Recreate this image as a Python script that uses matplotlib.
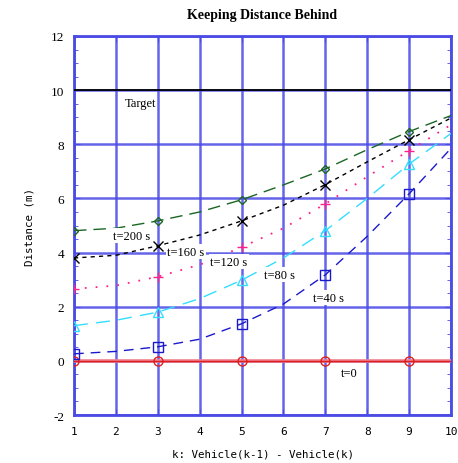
import numpy as np
import matplotlib.pyplot as plt
from matplotlib.ticker import MultipleLocator

plt.rcParams['axes.unicode_minus'] = False

# vehicle index k and the curve values read at each k
k = [1, 2, 3, 4, 5, 6, 7, 8, 9, 10]
t0 = [0, 0, 0, 0, 0, 0, 0, 0, 0, 0]
t40 = [0.26, 0.35, 0.52, 0.8, 1.37, 2.1, 3.18, 4.6, 6.17, 7.85]
t80 = [1.3, 1.5, 1.8, 2.3, 2.98, 3.8, 4.81, 6.0, 7.27, 8.4]
t120 = [2.66, 2.78, 3.11, 3.55, 4.2, 4.9, 5.8, 6.8, 7.77, 8.72]
t160 = [3.8, 3.9, 4.25, 4.65, 5.17, 5.75, 6.51, 7.35, 8.17, 8.97]
t200 = [4.81, 4.9, 5.17, 5.5, 5.95, 6.5, 7.09, 7.8, 8.47, 9.06]
target = 10

labels = ["t=0", "t=40 s", "t=80 s", "t=120 s", "t=160 s", "t=200 s"]
label_pos = [(7.37, -0.44), (6.7, 2.33), (5.53, 3.18), (4.25, 3.66), (3.22, 4.03), (1.93, 4.62)]

grid_col = "#4a4ae6"
serif = "Liberation Serif"
mono = ["DejaVu Sans Mono"]

fig = plt.figure(figsize=(4.58, 4.64), dpi=100)
ax = fig.add_axes([0.1616, 0.1034, 0.8231, 0.8169])

ax.axhline(target, color="black", lw=1.3, zorder=3)

# t=0 has a soft pink halo under the red line
ax.plot(k, t0, color="#f08090", lw=2.6, zorder=3)

series = [
    (t0, "#e02020", "-", "o", 1.0),
    (t40, "#1a1acc", (0, (7, 5)), "s", 1.0),
    (t80, "#33ddff", (0, (10, 6)), "^", 1.0),
    (t120, "#ff2288", (0, (1, 5)), "+", 1.3),
    (t160, "black", (0, (3, 3)), "x", 1.0),
    (t200, "#1a6622", (0, (9, 5)), "D", 1.0),
]
for vals, col, ls, mk, lw in series:
    ax.plot(k, vals, color=col, ls=ls, lw=lw, zorder=4)
    ax.plot(k[::2], vals[::2], ls="none", marker=mk, ms=6.5 if mk != "D" else 4,
            mfc="none", mec=col, mew=1.0, zorder=5)

ax.text(2.2, 9.53, "Target", family=serif, fontsize=9, va="center", zorder=6)
for txt, (x, y) in zip(labels, label_pos):
    ax.text(x, y, txt, family=serif, fontsize=9, va="center", zorder=6,
            bbox=dict(facecolor="white", edgecolor="none", pad=1))

ax.set_xlim(1, 10)
ax.set_ylim(-2, 12)
ax.xaxis.set_major_locator(MultipleLocator(1))
ax.yaxis.set_major_locator(MultipleLocator(2))
ax.yaxis.set_minor_locator(MultipleLocator(0.5))
ax.grid(True, which="major", color=grid_col, lw=1.8, alpha=0.85, zorder=1)
ax.tick_params(which="both", direction="in", top=True, right=True, color=grid_col)
ax.tick_params(which="major", length=4)
ax.tick_params(which="minor", length=3)
ax.tick_params(axis="x", pad=8, labelsize=8)
ax.tick_params(axis="y", pad=7, labelsize=9.5)
for lab in ax.get_xticklabels():
    lab.set_family(mono)
for lab in ax.get_yticklabels():
    lab.set_family(serif)
for sp in ax.spines.values():
    sp.set_color(grid_col)
    sp.set_linewidth(2.0)

ax.set_title("Keeping Distance Behind", family=serif, fontweight="bold", fontsize=10, pad=13)
ax.set_xlabel("k: Vehicle(k-1) - Vehicle(k)", family=mono, fontsize=7.8, labelpad=9)
ax.set_ylabel("Distance (m)", family=mono, fontsize=7.8, labelpad=12)

fig.savefig("out.png", dpi=100)
